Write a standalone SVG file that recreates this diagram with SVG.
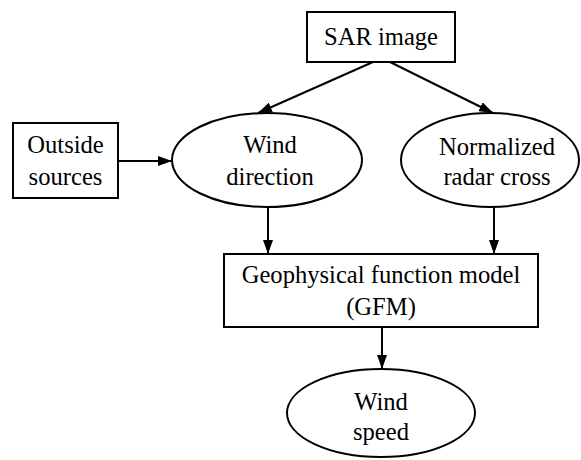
<svg xmlns="http://www.w3.org/2000/svg" width="581" height="460" viewBox="0 0 581 460">
<defs>
<marker id="ah" markerUnits="userSpaceOnUse" markerWidth="14" markerHeight="10" refX="14" refY="5" orient="auto">
<path d="M0,0 L14,5 L0,10 Z" fill="#000"/>
</marker>
<style>
.s{fill:#fff;stroke:#000;stroke-width:2}
.t{font-family:'Liberation Serif','Times New Roman','DejaVu Serif',serif;font-size:24.6px;fill:#000;text-anchor:middle}
.c{stroke:#000;stroke-width:2;fill:none;marker-end:url(#ah)}
</style>
</defs>
<rect width="581" height="460" fill="#fff"/>
<g id="connectors">
<line class="c" x1="373" y1="62" x2="258" y2="113"/>
<line class="c" x1="390" y1="62" x2="493" y2="113"/>
<line class="c" x1="118" y1="161" x2="172" y2="161"/>
<line class="c" x1="268" y1="207" x2="268" y2="254"/>
<line class="c" x1="494" y1="207" x2="494" y2="254"/>
<line class="c" x1="382" y1="327" x2="382" y2="369"/>
</g>
<g id="sar">
<rect class="s" x="307" y="12" width="148" height="50"/>
<text class="t" x="381" y="45">SAR image</text>
</g>
<g id="outside">
<rect class="s" x="13" y="123" width="105" height="75"/>
<text class="t" x="65.5" y="153">Outside</text>
<text class="t" x="65.5" y="185">sources</text>
</g>
<g id="winddir">
<ellipse class="s" cx="267" cy="160" rx="95" ry="47"/>
<text class="t" x="270" y="153">Wind</text>
<text class="t" x="270" y="185">direction</text>
</g>
<g id="nrcs">
<ellipse class="s" cx="490" cy="160" rx="89" ry="47"/>
<text class="t" x="497" y="155">Normalized</text>
<text class="t" x="497" y="185">radar cross</text>
</g>
<g id="gfm">
<rect class="s" x="224" y="254" width="314" height="73"/>
<text class="t" x="381" y="283">Geophysical function model</text>
<text class="t" x="381" y="315">(GFM)</text>
</g>
<g id="windspeed">
<ellipse class="s" cx="381" cy="413" rx="94" ry="44"/>
<text class="t" x="381" y="410">Wind</text>
<text class="t" x="381" y="440">speed</text>
</g>
</svg>
